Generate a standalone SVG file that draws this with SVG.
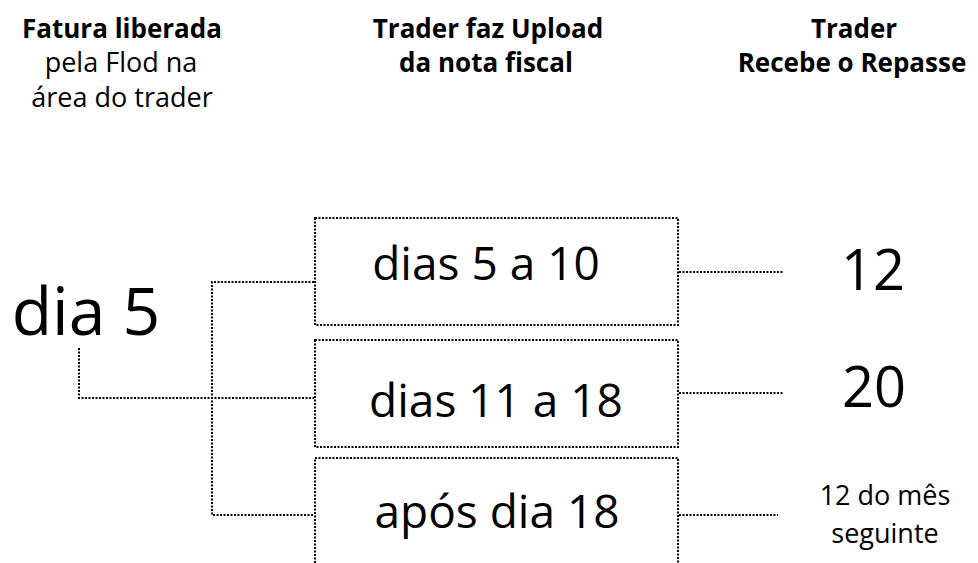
<svg xmlns="http://www.w3.org/2000/svg" width="978" height="563" viewBox="0 0 978 563">
<style>
text{font-family:"Open Sans","Liberation Sans",sans-serif;fill:#000;text-anchor:middle}
.h{font-size:26px;font-weight:bold}
.hr{font-size:27px}
.box{fill:none;stroke:#000;stroke-width:2;stroke-dasharray:2 1.5}
.c{fill:none;stroke:#000;stroke-width:2;stroke-dasharray:2 1.5}
.big{font-size:46px}
</style>
<rect width="978" height="563" fill="#fff"/>
<g id="header1"><text class="h" x="122" y="38">Fatura liberada</text><text class="hr" x="121" y="72">pela Flod na</text><text class="hr" x="122" y="107">área do trader</text></g>
<g id="header2"><text class="h" x="488" y="38">Trader faz Upload</text><text class="h" x="486" y="72">da nota fiscal</text></g>
<g id="header3"><text class="h" x="854" y="38">Trader</text><text class="h" x="852" y="72">Recebe o Repasse</text></g>
<g id="start"><text x="86" y="335" style="font-size:66px">dia 5</text></g>
<g id="box1"><rect class="box" x="315" y="218" width="363" height="107"/><text class="big" x="486" y="280">dias 5 a 10</text></g>
<g id="box2"><rect class="box" x="315" y="340" width="363" height="107"/><text class="big" x="496" y="417">dias 11 a 18</text></g>
<g id="box3"><rect class="box" x="315" y="458" width="363" height="120"/><text class="big" x="497" y="528">após dia 18</text></g>
<g id="out1"><text x="873" y="290" style="font-size:56px">12</text></g>
<g id="out2"><text x="874" y="407" style="font-size:56px">20</text></g>
<g id="out3"><text x="885" y="505" style="font-size:27px">12 do mês</text><text x="885" y="543" style="font-size:27px">seguinte</text></g>
<g id="connectors">
<path class="c" d="M79 348 V398 H314"/>
<path class="c" d="M314 282 H212 V515 H313"/>
<path class="c" d="M679 272 H783"/>
<path class="c" d="M679 393 H783"/>
<path class="c" d="M679 515 H778"/>
</g>
</svg>
